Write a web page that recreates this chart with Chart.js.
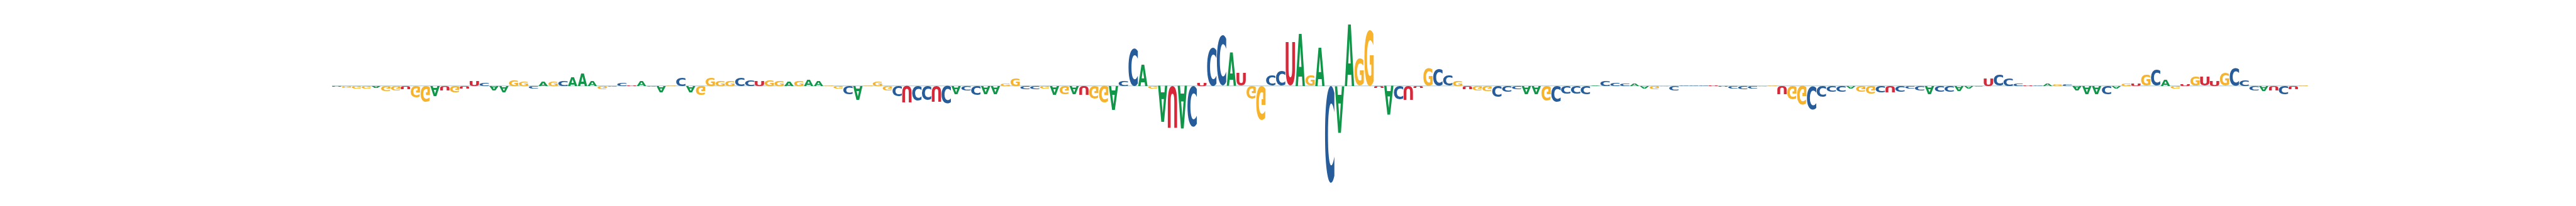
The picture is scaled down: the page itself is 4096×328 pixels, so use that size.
<!DOCTYPE html>
<html>
<head>
<meta charset="utf-8">
<script src="https://cdn.jsdelivr.net/npm/chart.js@4/dist/chart.umd.min.js"></script>
<style>
    html, body { margin: 0; padding: 0; background: #ffffff; }
    #wrap { width: 4096px; height: 328px; }
</style>
</head>
<body>
<div id="wrap"><canvas id="logo"></canvas></div>
<script>
// one value per position (1..201), positive above the baseline, negative below
const A = [
    0, 0, 0, 0, -0.03, 0, 0, 0, 0, 0,
    -0.19, 0, 0, 0, 0, 0, -0.08, -0.13, 0, 0,
    0, 0.07, 0, 0, 0.17, 0.23, 0.09, 0, 0, 0,
    0, 0.09, 0, -0.13, 0, 0, -0.13, 0, 0, 0,
    0, 0, 0, 0, 0, 0, 0.07, 0, 0.12, 0.10,
    0, 0, 0, -0.27, 0, 0, 0, 0, 0, 0,
    0, 0, 0, -0.16, 0, 0, -0.15, -0.16, 0, 0,
    0, 0, 0, -0.18, 0, -0.15, 0, 0, 0, -0.46,
    0, 0, 0.42, 0, -0.70, 0, -0.83, 0, 0, 0,
    0, 0.65, 0, 0, 0, 0, 0, 0, 1.01, 0,
    0.75, 0, -0.90, 1.19, 0, 0, 0, -0.56, 0, 0,
    0, 0, 0, 0, 0, 0, 0, 0, 0, 0,
    0, -0.16, -0.16, 0, 0, 0, 0, 0, 0.01, 0,
    0, 0, 0.04, -0.05, 0, 0, 0, 0, 0, 0,
    0, 0, 0, 0, 0, 0, 0, 0, 0, 0,
    0, 0, 0, 0, -0.05, 0, 0, 0, 0, 0,
    0, 0, -0.15, 0, 0, -0.09, -0.04, -0.02, 0, 0,
    0, 0, 0, 0, 0.05, 0, 0, -0.08, -0.16, -0.16,
    0, -0.05, 0, 0, 0, 0, 0.12, 0, 0, 0,
    0, 0, 0, 0, 0, 0, -0.10, 0, 0, 0, 0,
];
const C = [
    0, 0, 0, 0, 0, 0, 0, 0, 0, 0,
    0, 0, 0, 0, 0, 0.07, 0, 0, 0, 0,
    -0.05, 0, 0, 0.09, 0, 0, 0, 0, -0.01, 0.07,
    0, 0, -0.02, 0, 0, 0.16, 0, 0, 0, 0,
    0, 0.17, 0.12, 0, 0, 0, 0, 0, 0, 0,
    0, 0, -0.16, 0, 0, 0, 0, -0.19, 0, -0.29,
    -0.28, 0, -0.35, 0, -0.08, -0.18, 0, 0, 0, 0,
    -0.07, -0.07, 0, 0, 0, 0, 0, 0, 0, 0,
    0.09, 0.72, 0, 0, 0, 0, 0, -0.79, 0, 0.75,
    0.98, 0, 0, 0, 0, 0.19, 0.30, 0, 0, 0,
    0, -1.89, 0, 0, 0, 0, 0, 0, -0.26, 0,
    0, 0, 0.33, 0.19, 0, 0, 0, 0, -0.22, -0.11,
    -0.07, 0, 0, 0, -0.31, -0.15, -0.15, -0.16, 0, 0.09,
    0.06, 0.04, 0, 0, 0, 0, -0.08, 0.02, 0.02, 0.02,
    0, 0, -0.05, -0.06, -0.05, 0, 0, 0, 0, 0,
    -0.46, -0.21, -0.11, -0.11, 0, 0, 0, -0.13, 0, -0.12,
    -0.05, -0.08, 0, -0.12, -0.12, 0, 0, 0, 0, 0.22,
    0.14, 0.04, 0, 0.01, 0, 0, 0.03, 0, 0, 0,
    -0.16, 0, 0, 0, 0, 0.31, 0, 0, 0, 0,
    0, 0, 0, 0.34, 0.12, -0.08, 0, 0, -0.16, 0, 0,
];
const G = [
    0, -0.03, -0.04, -0.04, 0, -0.10, -0.08, 0, -0.23, -0.31,
    0, 0, -0.13, 0, 0, 0, 0, 0, 0.11, 0.08,
    0, 0, 0.08, 0, 0, 0, 0, -0.06, 0, 0,
    0, 0, 0, 0, 0.01, 0, 0, -0.18, 0.17, 0.10,
    0.10, 0, 0, 0, 0.12, 0.10, 0, 0.09, 0, 0,
    0.01, -0.04, 0, 0, 0.01, 0.08, -0.08, 0, 0, 0,
    0, 0, 0, 0, 0, 0, 0, 0, 0.05, 0.15,
    0, 0, -0.04, 0, -0.16, 0, 0, -0.25, -0.33, 0,
    0, 0, 0, -0.04, 0, 0, 0, 0, 0, 0,
    0, 0, 0, -0.25, -0.66, 0, 0, 0, 0, 0.20,
    0, 0, 0, 0, 0.52, 1.09, 0, 0, 0, 0,
    0, 0.35, 0, 0, 0.09, 0, -0.08, -0.10, 0, 0,
    0, 0, 0, -0.29, 0, 0, 0, 0, 0, 0,
    0, 0, 0, 0, -0.06, -0.02, 0, 0, 0, 0,
    0, 0, 0, 0, 0, -0.01, 0.02, 0, -0.26, -0.36,
    0, 0, 0, 0, 0, -0.11, -0.14, 0, 0, 0,
    0, 0, 0, 0, 0, 0, 0, 0, 0, 0,
    0, 0, 0, 0, 0, 0.03, 0, 0, 0, 0,
    0, 0, 0.04, 0, 0.22, 0, 0, -0.04, 0, 0.18,
    0, 0, 0.24, 0, 0, 0, 0, 0, 0, 0, 0.01,
];
const U = [
    -0.01, 0, 0, 0, 0, 0, 0, -0.06, 0, 0,
    0, -0.08, 0, -0.05, 0.09, 0, 0, 0, 0, 0,
    0, 0, 0, 0, 0, 0, 0, 0, 0, 0,
    0.02, 0, 0, 0, 0, 0, 0, 0, 0, 0,
    0, 0, 0, 0.09, 0, 0, 0, 0, 0, 0,
    0, 0, 0, 0, 0, 0, 0, 0, -0.33, 0,
    0, -0.31, 0, 0, 0, 0, 0, 0, 0, 0,
    0, 0, 0, 0, 0, 0, -0.18, 0, 0, 0,
    0, 0, 0, 0, 0, -0.81, 0, 0, 0.07, 0,
    0, 0, 0.24, 0, 0, 0, 0, 0.84, 0, 0,
    0, 0, 0, 0, 0, 0, -0.03, 0, 0, -0.28,
    -0.03, 0, 0, 0, 0, -0.06, 0, 0, 0, 0,
    0, 0, 0, 0, 0, 0, 0, 0, 0, 0,
    0, 0, 0, 0, 0, 0, 0, 0, 0, 0,
    0.01, -0.01, 0, 0, 0, 0, 0, -0.16, 0, 0,
    0, 0, 0, 0, 0, 0, 0, 0, -0.13, 0,
    0, 0, 0, 0, 0, 0, 0, 0, 0.15, 0,
    0, 0, 0.01, 0, 0, 0, 0, 0, 0, 0,
    0, 0, 0, 0.04, 0, 0, 0, 0, 0.03, 0,
    0.18, 0.09, 0, 0, 0, 0, 0, -0.08, 0, -0.07, 0,
];

const letters = ['A', 'C', 'G', 'U'];
const colors = { A: '#109648', C: '#255C99', G: '#F7B32B', U: '#D62839' };
const positions = A.map((v, i) => i + 1);
const yMin = -1.89;
const yMax = 1.19;

const glyphFont = 'bold 200px "DejaVu Sans"';
const glyphBox = {};

function measureGlyphs(ctx) {
    ctx.font = glyphFont;
    letters.forEach((ch) => {
        const m = ctx.measureText(ch);
        glyphBox[ch] = {
            left: m.actualBoundingBoxLeft,
            asc: m.actualBoundingBoxAscent,
            w: m.actualBoundingBoxLeft + m.actualBoundingBoxRight,
            h: m.actualBoundingBoxAscent + m.actualBoundingBoxDescent,
        };
    });
}

// stretch one letter into the box, upside down when it sits below the baseline
function drawGlyph(ctx, ch, x, w, top, bottom, flip) {
    const h = bottom - top;
    if (h <= 0) return;
    const m = glyphBox[ch];
    ctx.save();
    ctx.fillStyle = colors[ch];
    if (flip) {
        ctx.translate(x, bottom);
        ctx.scale(w / m.w, -h / m.h);
    } else {
        ctx.translate(x, top);
        ctx.scale(w / m.w, h / m.h);
    }
    ctx.fillText(ch, m.left, m.asc);
    ctx.restore();
}

const logoPlugin = {
    id: 'logo',
    afterDatasetsDraw(chart) {
        const ctx = chart.ctx;
        const y = chart.scales.y;
        const bars = chart.getDatasetMeta(0).data;
        const cols = chart.data.datasets.map((d) => d.data);
        measureGlyphs(ctx);
        ctx.save();
        ctx.font = glyphFont;
        ctx.textAlign = 'left';
        ctx.textBaseline = 'alphabetic';

        const y0 = y.getPixelForValue(0);
        const first = bars[0];
        const last = bars[bars.length - 1];
        ctx.strokeStyle = 'rgba(140, 170, 175, 0.9)';
        ctx.lineWidth = 0.8;
        ctx.beginPath();
        ctx.moveTo(first.x - first.width / 2, y0);
        ctx.lineTo(last.x + last.width / 2, y0);
        ctx.stroke();

        bars.forEach((bar, i) => {
            const left = bar.x - bar.width / 2;
            const vals = letters.map((l, k) => ({ l: l, v: cols[k][i] }));
            const up = vals.filter((d) => d.v > 0).sort((a, b) => a.v - b.v);
            const down = vals.filter((d) => d.v < 0).sort((a, b) => b.v - a.v);
            let floor = 0;
            up.forEach((d) => {
                drawGlyph(ctx, d.l, left, bar.width,
                    y.getPixelForValue(floor + d.v), y.getPixelForValue(floor), false);
                floor += d.v;
            });
            let ceil = 0;
            down.forEach((d) => {
                drawGlyph(ctx, d.l, left, bar.width,
                    y.getPixelForValue(ceil), y.getPixelForValue(ceil + d.v), true);
                ceil += d.v;
            });
        });
        ctx.restore();
    },
};

const ctx = document.getElementById('logo');
const logo = new Chart(ctx, {
    type: 'bar',
    data: {
        labels: positions,
        datasets: letters.map((l, k) => ({
            label: l,
            data: [A, C, G, U][k],
            backgroundColor: 'rgba(0,0,0,0)',
            borderWidth: 0,
            barPercentage: 0.95,
            categoryPercentage: 1,
        })),
    },
    options: {
        responsive: true,
        maintainAspectRatio: false,
        animation: false,
        events: [],
        layout: {
            padding: { left: 527.5, right: 426.1, top: 39.3, bottom: 36.4 },
        },
        plugins: {
            legend: { display: false },
            tooltip: { enabled: false },
        },
        scales: {
            x: { display: false, stacked: true },
            y: { display: false, stacked: true, min: yMin, max: yMax },
        },
    },
    plugins: [logoPlugin],
});
</script>
</body>
</html>
